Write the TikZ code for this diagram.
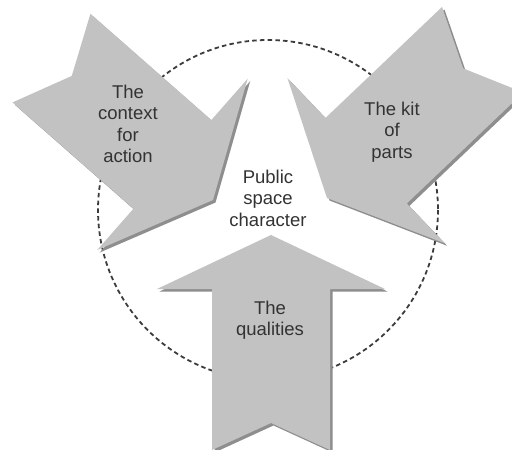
\documentclass[tikz,border=0pt]{standalone}
\usepackage{fontspec}
\setmainfont{Liberation Sans}
\definecolor{arrowfill}{HTML}{C2C2C2}
\definecolor{arrowshade}{HTML}{8E8E8E}
\definecolor{textgray}{HTML}{333333}
\definecolor{ringgray}{HTML}{3C3C3C}
\def\arrowpath{(0,0) -- (-54,114) -- (-54,59) -- (-215,59) -- (-188,0) -- (-215,-59) -- (-54,-59) -- (-54,-114) -- cycle}
\newcommand\bigarrowat[3]{%
  \begin{scope}[shift={(#1+2.5,#2+2.5)},rotate=#3]\fill[arrowshade] \arrowpath;\end{scope}
  \begin{scope}[shift={(#1,#2)},rotate=#3]\fill[arrowfill] \arrowpath;\end{scope}}
\tikzset{
  lbl/.style={align=center, inner sep=0pt, text=textgray,
    font=\fontsize{18.5}{21.5}\selectfont},
  ring/.style={draw=ringgray, line width=1.8pt, dash pattern=on 4.5pt off 3.2pt}
}
\begin{document}
\begin{tikzpicture}[x=1pt,y=-1pt]
\useasboundingbox (0,0) rectangle (512,450);
\fill[white] (0,0) rectangle (512,450);
\draw[ring] (268,210) circle[radius=170];
\bigarrowat{213}{200}{-41.3}
\bigarrowat{327}{198}{-136.4}
\bigarrowat{271}{235}{90}
\node[lbl] (ctx) at (128,124) {The\\context\\for\\action};
\node[lbl] (kit) at (392,132) {The kit\\of\\parts};
\node[lbl] (psc) at (268,198) {Public\\space\\character};
\node[lbl] (qual) at (270,320) {The\\qualities};
\end{tikzpicture}
\end{document}
